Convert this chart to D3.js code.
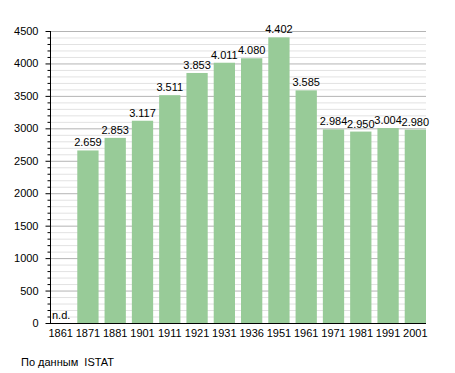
<!DOCTYPE html>
<html>
<head>
<meta charset="utf-8">
<script src="https://cdn.jsdelivr.net/npm/d3@7"></script>
<style>
  body { margin: 0; background: #fff; }
  text { font-family: "Liberation Sans", Arial, sans-serif; font-size: 11px; fill: #000; }
</style>
</head>
<body>
<svg id="chart" width="455" height="373"></svg>
<script>
const years = ['1861', '1871', '1881', '1901', '1911', '1921', '1931', '1936', '1951', '1961', '1971', '1981', '1991', '2001'];
const population = [null, 2659, 2853, 3117, 3511, 3853, 4011, 4080, 4402, 3585, 2984, 2950, 3004, 2980];
const yTicks = [0, 500, 1000, 1500, 2000, 2500, 3000, 3500, 4000, 4500];
const source = 'По данным  ISTAT';

const svg = d3.select('#chart');
const plotLeft = 50, plotRight = 426, plotTop = 31, plotBottom = 323;

const x = d3.scaleBand().domain(years).range([plotLeft, plotRight]).paddingInner(0.22).paddingOuter(0);
const y = d3.scaleLinear().domain([0, 4500]).range([plotBottom, plotTop]);

const fmt = v => d3.format(',')(v).replace(/,/g, '.');

// minor grid every 100
svg.append('g').selectAll('line')
    .data(d3.range(100, 4501, 100).filter(v => v % 500 !== 0))
    .enter().append('line')
    .attr('x1', plotLeft).attr('x2', plotRight)
    .attr('y1', d => y(d) + 0.5).attr('y2', d => y(d) + 0.5)
    .attr('stroke', '#e2e2e2');

// major grid
svg.append('g').selectAll('line')
    .data(yTicks.filter(v => v > 0))
    .enter().append('line')
    .attr('x1', plotLeft).attr('x2', plotRight)
    .attr('y1', d => y(d) + 0.5).attr('y2', d => y(d) + 0.5)
    .attr('stroke', '#b4b4b4');

// bars
const data = years.map((yr, i) => ({ year: yr, value: population[i] }));
svg.append('g').selectAll('rect')
    .data(data.filter(d => d.value !== null))
    .enter().append('rect')
    .attr('x', d => x(d.year))
    .attr('width', x.bandwidth())
    .attr('y', d => y(d.value))
    .attr('height', d => y(0) - y(d.value))
    .attr('fill', '#98cb98');

// value labels
svg.append('g').selectAll('text')
    .data(data)
    .enter().append('text')
    .attr('x', d => d.value === null ? x(d.year) + 2 : x(d.year) + x.bandwidth() / 2)
    .attr('y', d => d.value === null ? y(0) - 4 : y(d.value) - 4)
    .attr('text-anchor', d => d.value === null ? 'start' : 'middle')
    .text(d => d.value === null ? 'n.d.' : fmt(d.value));

// y axis
const yAxis = d3.axisLeft(y).tickValues(yTicks).tickSize(5).tickFormat(d3.format('d'));
const gy = svg.append('g').attr('transform', `translate(${plotLeft + 0.5},0)`).call(yAxis);
gy.select('.domain').attr('stroke', '#000').attr('d', `M0,${plotTop}V${plotBottom}`);
gy.selectAll('.tick line').attr('stroke', '#000');
gy.selectAll('.tick text').attr('x', -12).style('font-size', '11px').style('font-family', '"Liberation Sans", Arial, sans-serif');

// minor ticks
gy.append('g').selectAll('line')
    .data(d3.range(100, 4500, 100).filter(v => v % 500 !== 0))
    .enter().append('line')
    .attr('x1', -3).attr('x2', 0)
    .attr('y1', d => y(d) + 0.5).attr('y2', d => y(d) + 0.5)
    .attr('stroke', '#000');

// x axis
const xAxis = d3.axisBottom(x).tickSize(0).tickPadding(6);
const gx = svg.append('g').attr('transform', `translate(0,${plotBottom + 0.5})`).call(xAxis);
gx.select('.domain').attr('stroke', '#000').attr('d', `M${plotLeft},0H${plotRight}`);
gx.selectAll('.tick text').style('font-size', '11px').style('font-family', '"Liberation Sans", Arial, sans-serif');

svg.append('text')
    .attr('x', 21).attr('y', 366)
    .style('white-space', 'pre')
    .text(source);
</script>
</body>
</html>
